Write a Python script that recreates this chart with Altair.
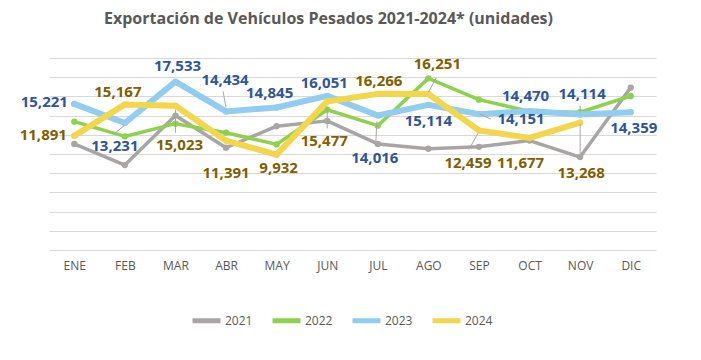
import altair as alt
import pandas as pd

months = ["ENE", "FEB", "MAR", "ABR", "MAY", "JUN", "JUL", "AGO", "SEP", "OCT", "NOV", "DIC"]
years = ["2021", "2022", "2023", "2024"]
v2021 = [11050, 8850, 14000, 10650, 12900, 13450, 11050, 10550, 10750, 11400, 9680, 16920]
v2022 = [13370, 11830, 13160, 12220, 11000, 14610, 12950, 17880, 15660, 14440, 14350, 16040]
v2023 = [15221, 13231, 17533, 14434, 14845, 16051, 14016, 15114, 14151, 14470, 14114, 14359]
v2024 = [11891, 15167, 15023, 11391, 9932, 15477, 16266, 16251, 12459, 11677, 13268]

line_colors = ["#A8A5A5", "#8FD14F", "#92CDF0", "#F2D64B"]
line_widths = [3.5, 3.5, 6, 6]
label_colors = {"2023": "#2F5597", "2024": "#7F6000"}

# label offsets (pixels, relative to the point)
lbl23_dx = [-30, -10, 2, -1, -7, -3, -3, 0, 42, -4, 2, 3]
lbl23_dy = [-2, 23, -16, -31, -14, -13, 43, 16, 5, -15, -21, 16]
lbl24_dx = [-31, -7, 4, 0, 2, -3, 1, 9, -11, -9, 1]
lbl24_dy = [-1, -12, 39, 32, 13, 40, -13, -30, 33, 25, 50]

# leader lines: serie, month, x1, y1, x2, y2 (pixel offsets from the point)
leaders = [
    ("2023", "FEB", -1, 3, -11, 11),
    ("2024", "MAR", 0, 4, 0, 27),
    ("2023", "ABR", -3, -20, 0, -4),
    ("2024", "JUN", 0, 5, 0, 27),
    ("2023", "JUL", -1, 6, -2, 29),
    ("2024", "AGO", 0, -2, 8, -16),
    ("2023", "SEP", 1, 0, 12, 5),
    ("2024", "SEP", -1, 3, -10, 19),
    ("2023", "NOV", 0, -9, 0, -2),
    ("2024", "NOV", 0, 1, 0, 32),
]

series = {"2021": v2021, "2022": v2022, "2023": v2023, "2024": v2024}
rows = []
for y in years:
    for m, v in zip(months, series[y]):
        rows.append({"mes": m, "serie": y, "valor": v})
df = pd.DataFrame(rows)

lab_rows = []
for m, v, dx, dy in zip(months, v2023, lbl23_dx, lbl23_dy):
    lab_rows.append({"mes": m, "serie": "2023", "valor": v, "dx": dx, "dy": dy})
for m, v, dx, dy in zip(months, v2024, lbl24_dx, lbl24_dy):
    lab_rows.append({"mes": m, "serie": "2024", "valor": v, "dx": dx, "dy": dy})
dfl = pd.DataFrame(lab_rows)

lead_rows = []
for s, m, x1, y1, x2, y2 in leaders:
    v = series[s][months.index(m)]
    lead_rows.append({"mes": m, "serie": s, "valor": v, "x1": x1, "y1": y1, "x2": x2, "y2": y2})
dfr = pd.DataFrame(lead_rows)

FONT = "Open Sans"

x_axis = alt.Axis(title=None, labelAngle=0, ticks=False, tickSize=0, domain=False,
                  grid=False, labelPadding=10, labelFont=FONT, labelFontSize=12,
                  labelColor="#595959")
y_axis = alt.Axis(title=None, values=list(range(0, 20001, 2000)), labels=False,
                  ticks=False, domain=False, gridColor="#D9D9D9", gridWidth=1)
x_enc = alt.X("mes:N", sort=months, scale=alt.Scale(type="point", padding=0.5), axis=x_axis)
y_enc = alt.Y("valor:Q", scale=alt.Scale(domain=[0, 20000]), axis=y_axis)

color_scale = alt.Scale(domain=years, range=line_colors)
legend = alt.Legend(title=None, orient="none", legendX=141, legendY=246,
                    direction="horizontal", symbolType="stroke",
                    symbolSize=784, symbolStrokeWidth=5,
                    labelFont=FONT, labelFontSize=12, labelColor="#595959",
                    columnPadding=9, labelOffset=2)

layers = []
for y, w in zip(years, line_widths):
    base = alt.Chart(df).transform_filter(alt.datum.serie == y)
    layers.append(base.mark_line(strokeWidth=w, strokeCap="round", strokeJoin="round").encode(
        x=x_enc, y=y_enc, color=alt.Color("serie:N", scale=color_scale, legend=legend)))
    layers.append(base.mark_circle(size=40, opacity=1).encode(
        x=x_enc, y=y_enc, color=alt.Color("serie:N", scale=color_scale, legend=legend)))

rules = alt.Chart(dfr).mark_rule(
    color="#A6A6A6", strokeWidth=1,
    xOffset=alt.ExprRef("datum.x1"), x2Offset=alt.ExprRef("datum.x2"),
    yOffset=alt.ExprRef("datum.y1"), y2Offset=alt.ExprRef("datum.y2"),
).encode(x=x_enc, x2="mes:N", y=y_enc, y2="valor:Q")
layers.append(rules)

for s in ["2023", "2024"]:
    layers.append(
        alt.Chart(dfl).transform_filter(alt.datum.serie == s).mark_text(
            font=FONT, fontSize=15, fontWeight="bold", color=label_colors[s],
            align="center", baseline="middle",
            dx=alt.ExprRef("datum.dx"), dy=alt.ExprRef("datum.dy"),
        ).encode(x=x_enc, y=y_enc, text=alt.Text("valor:Q", format=","))
    )

chart = alt.layer(*layers).properties(
    width=607, height=192,
    title=alt.TitleParams("Exportación de Vehículos Pesados 2021-2024* (unidades)",
                          font=FONT, fontSize=16, fontWeight="bold", color="#595959",
                          anchor="middle", dx=-24, offset=30),
    padding={"left": 41, "top": 50, "right": 30, "bottom": 95},
    autosize=alt.AutoSizeParams(type="none"),
).configure_view(stroke=None)

chart.save("out.html", embed_options={"renderer": "svg", "actions": False})
